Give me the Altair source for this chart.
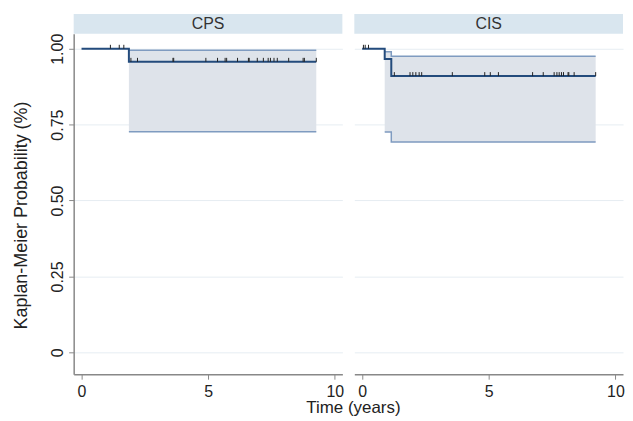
import altair as alt
import pandas as pd

# ---- data ----
panels = ["CPS", "CIS"]

cps_time = [0.0, 1.87, 9.27]
cps_surv = [1.0, 0.957, 0.957]
cps_ci_time = [1.87, 9.27]
cps_upper = [0.995, 0.995]
cps_lower = [0.727, 0.727]
cps_cens = [1.14, 1.49, 1.67, 1.95, 2.21, 3.61, 3.64, 4.91, 5.37, 5.67, 5.73,
            6.16, 6.59, 6.62, 6.94, 7.18, 7.37, 7.46, 7.60, 7.73, 8.18, 8.75,
            8.80, 9.27]

cis_time = [0.0, 0.89, 1.15, 9.22]
cis_surv = [1.0, 0.966, 0.910, 0.910]
cis_ci_time = [0.89, 1.15, 9.22]
cis_upper = [0.990, 0.975, 0.975]
cis_lower = [0.726, 0.693, 0.693]
cis_cens = [0.05, 0.12, 0.25, 1.27, 1.89, 2.00, 2.12, 2.25, 2.35, 3.56, 4.84,
            5.06, 5.38, 6.73, 7.15, 7.58, 7.69, 7.78, 7.87, 7.95, 8.13, 8.16,
            8.37, 9.22]

x_ticks = [0, 5, 10]
y_ticks = [0, 0.25, 0.5, 0.75, 1.0]

# ---- styling ----
W, H = 270, 342
XDOM = [-0.31, 10.3]
YDOM = [-0.072, 1.049]
LINE = "#234b7c"
BOUND = "#7f9bc0"
FILL = "#dee3ea"
HEAD = "#d9e6ef"
FONT = "Liberation Sans"


def step_lookup(times, survs, t):
    s = survs[0]
    for tt, ss in zip(times, survs):
        if t >= tt:
            s = ss
    return s


def panel(name, t, s, ci_t, up, lo, cens, left):
    curve = pd.DataFrame({"time": t, "surv": s})
    ci = pd.DataFrame({"time": ci_t, "upper": up, "lower": lo})
    cz = pd.DataFrame({"time": cens,
                       "surv": [step_lookup(t, s, c) for c in cens]})
    cz["top"] = cz["surv"] + 0.013
    head = pd.DataFrame({"label": [name]})

    xsc = alt.Scale(domain=XDOM, nice=False, zero=False)
    ysc = alt.Scale(domain=YDOM, nice=False, zero=False)
    xax = alt.Axis(values=x_ticks, title=None, grid=False, tickSize=5,
                   labelPadding=4, domainColor="#888", tickColor="#888",
                   labelColor="#222", labelFontSize=16, labelFont=FONT,
                   domainWidth=1.5)
    if left:
        yax = alt.Axis(values=y_ticks, title="Kaplan-Meier Probability (%)",
                       grid=True, gridColor="#e6edf2", tickSize=5,
                       labelAngle=270, labelAlign="center", labelBaseline="bottom",
                       labelPadding=3, titlePadding=19, titleY=182,
                       labelExpr="datum.value == 0 ? '0' : format(datum.value, '.2f')",
                       domainColor="#888", tickColor="#888", labelColor="#222",
                       labelFontSize=16, titleFontSize=18, titleFontWeight="normal",
                       labelFont=FONT, titleFont=FONT, titleColor="#222",
                       domainWidth=1.5)
    else:
        yax = alt.Axis(values=y_ticks, title=None, grid=True, gridColor="#e6edf2",
                       labels=False, ticks=False, domain=False)

    band = alt.Chart(ci).mark_area(interpolate="step-after", color=FILL, opacity=1).encode(
        x=alt.X("time:Q", scale=xsc, axis=xax),
        y=alt.Y("lower:Q", scale=ysc, axis=yax),
        y2="upper:Q",
    )
    ub = alt.Chart(ci).mark_line(interpolate="step-after", color=BOUND, strokeWidth=1.5).encode(
        x="time:Q", y="upper:Q")
    lb = alt.Chart(ci).mark_line(interpolate="step-after", color=BOUND, strokeWidth=1.5).encode(
        x="time:Q", y="lower:Q")
    km = alt.Chart(curve).mark_line(interpolate="step-after", color=LINE, strokeWidth=2).encode(
        x="time:Q", y="surv:Q")
    ticks = alt.Chart(cz).mark_rule(color="#222", strokeWidth=1).encode(
        x="time:Q", y="surv:Q", y2="top:Q")
    hrect = alt.Chart(head).mark_rect(color=HEAD).encode(
        x=alt.value(0), x2=alt.value(W), y=alt.value(-20), y2=alt.value(0))
    htext = alt.Chart(head).mark_text(fontSize=16, font=FONT, color="#333",
                                      baseline="middle", align="center").encode(
        x=alt.value(W / 2), y=alt.value(-10), text="label:N")
    return alt.layer(band, ub, lb, km, ticks, hrect, htext).properties(width=W, height=H)


left = panel("CPS", cps_time, cps_surv, cps_ci_time, cps_upper, cps_lower, cps_cens, True)
right = panel("CIS", cis_time, cis_surv, cis_ci_time, cis_upper, cis_lower, cis_cens, False)

chart = alt.hconcat(left, right, spacing=10).properties(
    title=alt.TitleParams("Time (years)", orient="bottom", anchor="middle",
                          fontSize=17, fontWeight="normal", font=FONT, color="#222",
                          offset=1, dx=35),
    padding={"left": 5, "top": 5, "right": 0, "bottom": 0},
).configure_view(stroke=None)

chart.save("out.html", embed_options={"renderer": "svg", "actions": False})
